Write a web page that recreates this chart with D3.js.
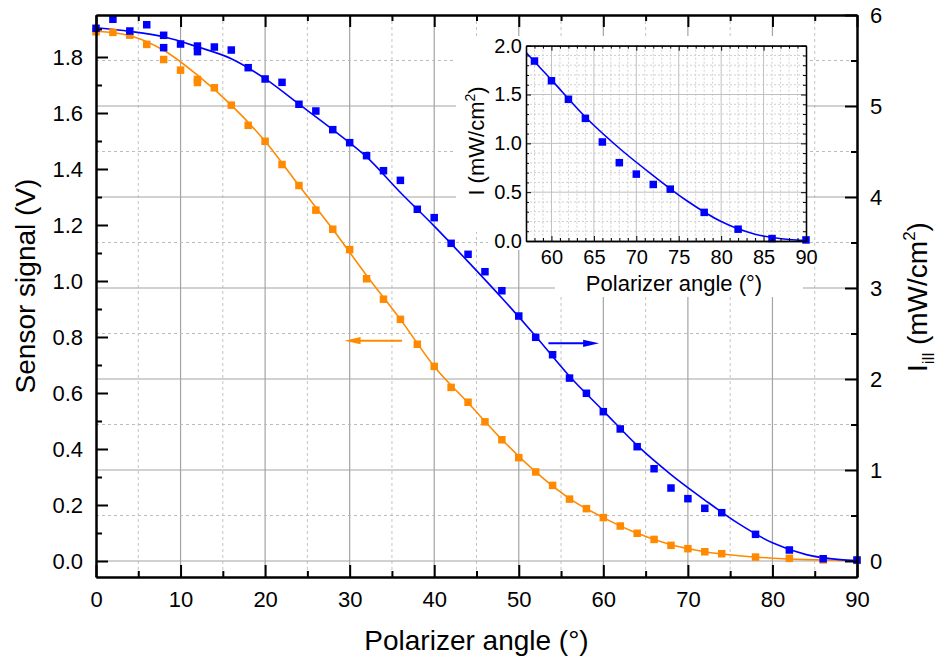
<!DOCTYPE html>
<html>
<head>
<meta charset="utf-8">
<script src="https://cdn.jsdelivr.net/npm/d3@7"></script>
<style>
  body { margin: 0; background: #fff; }
  svg { font-family: "Liberation Sans", Arial, sans-serif; }
</style>
</head>
<body>
<script>
// Measured points: polarizer angle (deg), sensor signal (V, left axis)
const orangeAngle = [0, 2, 4, 6, 8, 10, 12, 12, 14, 16, 18, 20, 22, 24, 26, 28, 30, 32, 34, 36, 38, 40, 42, 44, 46, 48, 50, 52, 54, 56, 58, 60, 62, 64, 66, 68, 70, 72, 74, 78, 82, 86, 90];
const orangeV = [1.890, 1.888, 1.878, 1.845, 1.791, 1.753, 1.720, 1.709, 1.690, 1.628, 1.556, 1.499, 1.416, 1.341, 1.253, 1.185, 1.112, 1.008, 0.935, 0.863, 0.774, 0.695, 0.620, 0.567, 0.497, 0.433, 0.369, 0.318, 0.270, 0.221, 0.187, 0.155, 0.125, 0.099, 0.077, 0.056, 0.044, 0.033, 0.026, 0.014, 0.0096, 0.004, 0.002];

// Measured points: illumination intensity (mW/cm2, right axis)
const blueAngle = [0, 2, 4, 6, 8, 8, 10, 12, 12, 14, 16, 18, 20, 22, 24, 26, 28, 30, 32, 34, 36, 38, 40, 42, 44, 46, 48, 50, 52, 54, 56, 58, 60, 62, 64, 66, 68, 70, 72, 74, 78, 82, 86, 90];
const blueI = [5.854, 5.953, 5.824, 5.893, 5.777, 5.641, 5.681, 5.659, 5.597, 5.648, 5.615, 5.421, 5.297, 5.260, 5.019, 4.945, 4.740, 4.597, 4.454, 4.289, 4.183, 3.865, 3.773, 3.491, 3.370, 3.179, 2.970, 2.692, 2.458, 2.267, 2.010, 1.843, 1.641, 1.451, 1.256, 1.014, 0.802, 0.685, 0.579, 0.531, 0.293, 0.121, 0.025, 0.011];

// Fit curves
const fitAngle = [0, 4, 8, 12, 16, 20, 24, 28, 32, 36, 40, 44, 48, 52, 56, 60, 64, 68, 72, 76, 80, 84, 88, 90];
const orangeFit = [1.892, 1.876, 1.824, 1.735, 1.628, 1.499, 1.341, 1.185, 1.020, 0.863, 0.695, 0.565, 0.434, 0.318, 0.223, 0.155, 0.099, 0.058, 0.033, 0.019, 0.010, 0.005, 0.002, 0.000];
const blueFit = [5.86, 5.82, 5.76, 5.65, 5.52, 5.30, 5.02, 4.74, 4.44, 4.05, 3.68, 3.29, 2.89, 2.47, 2.03, 1.65, 1.27, 0.95, 0.67, 0.41, 0.20, 0.07, 0.015, 0.005];

// Tick values
const xMajor = d3.range(0, 91, 10);
const xMinor = d3.range(5, 90, 10);
const leftMajor = d3.range(0, 1.81, 0.2);
const leftMinor = d3.range(0.1, 1.91, 0.2);
const rightMajor = d3.range(0, 7, 1);
const rightMinor = d3.range(0.5, 6, 1);
const insetXMajor = d3.range(60, 91, 5);
const insetXMinor = d3.range(58, 90, 1).filter(d => d % 5 !== 0);
const insetYMajor = [0, 0.5, 1.0, 1.5, 2.0];
const insetYMinor = d3.range(1, 20).filter(d => d % 5 !== 0).map(d => d / 10);

const orange = "#ff8a00";
const blue = "#0000ff";

const svg = d3.select("body").append("svg")
  .attr("width", 939)
  .attr("height", 659);

// Main plot scales
const x = d3.scaleLinear().domain([0, 90]).range([96, 857]);
const yL = d3.scaleLinear().domain([0, 1.8]).range([561, 57]);
const yR = d3.scaleLinear().domain([0, 6]).range([561, 15]);
const plotTop = 15, plotBottom = 577;

// Grid
const grid = svg.append("g");
grid.selectAll(".vmaj").data(xMajor.filter(d => d > 0 && d < 90)).enter().append("line")
  .attr("x1", d => x(d)).attr("x2", d => x(d)).attr("y1", plotTop).attr("y2", plotBottom)
  .attr("stroke", "#a4a4a4").attr("stroke-width", 1.2);
grid.selectAll(".vmin").data(xMinor).enter().append("line")
  .attr("x1", d => x(d)).attr("x2", d => x(d)).attr("y1", plotTop).attr("y2", plotBottom)
  .attr("stroke", "#c4c4c4").attr("stroke-dasharray", "3,3");
grid.selectAll(".hmaj").data(rightMajor.filter(d => d < 6)).enter().append("line")
  .attr("x1", x(0)).attr("x2", x(90)).attr("y1", d => yR(d)).attr("y2", d => yR(d))
  .attr("stroke", "#a4a4a4").attr("stroke-width", 1.2);
grid.selectAll(".hmin").data(rightMinor).enter().append("line")
  .attr("x1", x(0)).attr("x2", x(90)).attr("y1", d => yR(d)).attr("y2", d => yR(d))
  .attr("stroke", "#bcbcbc").attr("stroke-dasharray", "3,3");

// Fit lines
const orangeLine = d3.line().curve(d3.curveMonotoneX)
  .x((d, i) => x(fitAngle[i])).y(d => yL(d));
const blueLine = d3.line().curve(d3.curveMonotoneX)
  .x((d, i) => x(fitAngle[i])).y(d => yR(d));

svg.append("path").datum(orangeFit).attr("d", orangeLine)
  .attr("fill", "none").attr("stroke", orange).attr("stroke-width", 1.6);
svg.append("path").datum(blueFit).attr("d", blueLine)
  .attr("fill", "none").attr("stroke", blue).attr("stroke-width", 1.6);

// Points
const sq = 7.5;
svg.selectAll(".op").data(orangeV).enter().append("rect")
  .attr("x", (d, i) => x(orangeAngle[i]) - sq / 2)
  .attr("y", d => yL(d) - sq / 2)
  .attr("width", sq).attr("height", sq).attr("fill", orange);
svg.selectAll(".bp").data(blueI).enter().append("rect")
  .attr("x", (d, i) => x(blueAngle[i]) - sq / 2)
  .attr("y", d => yR(d) - sq / 2)
  .attr("width", sq).attr("height", sq).attr("fill", blue);

// Arrows pointing to each series' axis
function arrow(x1, x2, y, color) {
  const dir = Math.sign(x2 - x1);
  svg.append("line").attr("x1", x1).attr("x2", x2 - dir * 12).attr("y1", y).attr("y2", y)
    .attr("stroke", color).attr("stroke-width", 2);
  svg.append("path")
    .attr("d", `M${x2},${y} L${x2 - dir * 16},${y - 3.6} L${x2 - dir * 16},${y + 3.6} Z`)
    .attr("fill", color);
}
arrow(x(36.2), x(29.4), yL(0.787), orange);
arrow(x(53.5), x(59.5), yR(2.392), blue);

// Main axes
const fs = "22px";
function styleAxis(g) {
  g.select(".domain").attr("stroke", "#000").attr("stroke-width", 2);
  g.selectAll(".tick line").attr("stroke", "#000").attr("stroke-width", 2);
  g.selectAll(".tick text").attr("font-size", fs).attr("fill", "#000")
    .attr("font-family", "Liberation Sans, Arial, sans-serif");
}

svg.append("g").attr("transform", `translate(0,${plotBottom})`)
  .call(d3.axisBottom(x).tickValues(xMinor).tickSize(-6).tickFormat("").tickSizeOuter(0)).call(styleAxis);
svg.append("g").attr("transform", `translate(0,${plotBottom})`)
  .call(d3.axisBottom(x).tickValues(xMajor).tickSize(-12).tickPadding(14).tickFormat(d3.format("d")).tickSizeOuter(0))
  .call(styleAxis);
svg.append("g").attr("transform", `translate(0,${plotTop})`)
  .call(d3.axisTop(x).tickValues(xMinor).tickSize(-6).tickFormat("").tickSizeOuter(0)).call(styleAxis);
svg.append("g").attr("transform", `translate(0,${plotTop})`)
  .call(d3.axisTop(x).tickValues(xMajor).tickSize(-12).tickFormat("").tickSizeOuter(0)).call(styleAxis);

// left axis spans full plot height
const yLfull = yL.copy().domain([yL.invert(plotBottom), yL.invert(plotTop)]).range([plotBottom, plotTop]);
svg.append("g").attr("transform", `translate(${x(0)},0)`)
  .call(d3.axisLeft(yLfull).tickValues(leftMinor).tickSize(-6).tickFormat("").tickSizeOuter(0)).call(styleAxis);
svg.append("g").attr("transform", `translate(${x(0)},0)`)
  .call(d3.axisLeft(yLfull).tickValues(leftMajor).tickSize(-12).tickPadding(13).tickFormat(d3.format(".1f")).tickSizeOuter(0))
  .call(styleAxis);

const yRfull = yR.copy().domain([yR.invert(plotBottom), yR.invert(plotTop)]).range([plotBottom, plotTop]);
svg.append("g").attr("transform", `translate(${x(90)},0)`)
  .call(d3.axisRight(yRfull).tickValues(rightMinor).tickSize(-6).tickFormat("").tickSizeOuter(0)).call(styleAxis);
svg.append("g").attr("transform", `translate(${x(90)},0)`)
  .call(d3.axisRight(yRfull).tickValues(rightMajor).tickSize(-12).tickPadding(13).tickFormat(d3.format("d")).tickSizeOuter(0))
  .call(styleAxis);

// Axis titles
svg.append("text").attr("x", (x(0) + x(90)) / 2).attr("y", 650)
  .attr("text-anchor", "middle").attr("font-size", "28px").text("Polarizer angle (°)");
svg.append("text").attr("transform", "translate(35,286) rotate(-90)")
  .attr("text-anchor", "middle").attr("font-size", "28px").text("Sensor signal (V)");
const rt = svg.append("text").attr("transform", "translate(927,297) rotate(-90)")
  .attr("text-anchor", "middle").attr("font-size", "28px");
rt.append("tspan").text("I");
rt.append("tspan").attr("font-size", "17px").attr("dy", 7).text("ill");
rt.append("tspan").attr("dy", -7).text(" (mW/cm");
rt.append("tspan").attr("font-size", "17px").attr("dy", -12).text("2");
rt.append("tspan").attr("dy", 12).text(")");

// ---------- Inset ----------
const ix = d3.scaleLinear().domain([57, 90]).range([526, 806]);
const iy = d3.scaleLinear().domain([0, 2]).range([241, 45.7]);

// white background behind inset and its labels
svg.append("rect").attr("x", 456).attr("y", 36).attr("width", 350).attr("height", 196).attr("fill", "#fff");
svg.append("rect").attr("x", 488).attr("y", 232).attr("width", 318).attr("height", 18).attr("fill", "#fff");
svg.append("rect").attr("x", 555).attr("y", 250).attr("width", 248).attr("height", 47).attr("fill", "#fff");

const inset = svg.append("g");
inset.append("clipPath").attr("id", "iclip").append("rect")
  .attr("x", ix(57)).attr("y", iy(2)).attr("width", ix(90) - ix(57)).attr("height", iy(0) - iy(2));

inset.selectAll(".ivmin").data(insetXMinor).enter().append("line")
  .attr("x1", d => ix(d)).attr("x2", d => ix(d)).attr("y1", iy(2)).attr("y2", iy(0))
  .attr("stroke", "#d0d0d0").attr("stroke-dasharray", "2,2");
inset.selectAll(".ihmin").data(insetYMinor).enter().append("line")
  .attr("x1", ix(57)).attr("x2", ix(90)).attr("y1", d => iy(d)).attr("y2", d => iy(d))
  .attr("stroke", "#d0d0d0").attr("stroke-dasharray", "2,2");
inset.selectAll(".ivmaj").data(insetXMajor.filter(d => d < 90)).enter().append("line")
  .attr("x1", d => ix(d)).attr("x2", d => ix(d)).attr("y1", iy(2)).attr("y2", iy(0))
  .attr("stroke", "#c0c0c0");
inset.selectAll(".ihmaj").data(insetYMajor.filter(d => d > 0 && d < 2)).enter().append("line")
  .attr("x1", ix(57)).attr("x2", ix(90)).attr("y1", d => iy(d)).attr("y2", d => iy(d))
  .attr("stroke", "#c0c0c0");

const insetLine = d3.line().curve(d3.curveMonotoneX)
  .x((d, i) => ix(fitAngle[i])).y(d => iy(d));
inset.append("path").datum(blueFit).attr("d", insetLine).attr("clip-path", "url(#iclip)")
  .attr("fill", "none").attr("stroke", blue).attr("stroke-width", 1.6);

const isq = 7.5;
inset.selectAll(".ip").data(blueI.map((d, i) => [blueAngle[i], d]).filter(d => d[0] >= 57))
  .enter().append("rect")
  .attr("x", d => ix(d[0]) - isq / 2).attr("y", d => iy(d[1]) - isq / 2)
  .attr("width", isq).attr("height", isq).attr("fill", blue);

function styleInset(g) {
  g.select(".domain").attr("stroke", "#000").attr("stroke-width", 1.3);
  g.selectAll(".tick line").attr("stroke", "#000").attr("stroke-width", 1);
  g.selectAll(".tick text").attr("font-size", "20px").attr("fill", "#000")
    .attr("font-family", "Liberation Sans, Arial, sans-serif");
}
inset.append("g").attr("transform", `translate(0,${iy(0)})`)
  .call(d3.axisBottom(ix).tickValues(insetXMinor).tickSize(-3).tickFormat("").tickSizeOuter(0)).call(styleInset);
inset.append("g").attr("transform", `translate(0,${iy(0)})`)
  .call(d3.axisBottom(ix).tickValues(insetXMajor).tickSize(-5).tickPadding(9).tickFormat(d3.format("d")).tickSizeOuter(0))
  .call(styleInset);
inset.append("g").attr("transform", `translate(0,${iy(2)})`)
  .call(d3.axisTop(ix).tickValues(insetXMinor).tickSize(-3).tickFormat("").tickSizeOuter(0)).call(styleInset);
inset.append("g").attr("transform", `translate(0,${iy(2)})`)
  .call(d3.axisTop(ix).tickValues(insetXMajor).tickSize(-5).tickFormat("").tickSizeOuter(0)).call(styleInset);
inset.append("g").attr("transform", `translate(${ix(57)},0)`)
  .call(d3.axisLeft(iy).tickValues(insetYMinor).tickSize(-3).tickFormat("").tickSizeOuter(0)).call(styleInset);
inset.append("g").attr("transform", `translate(${ix(57)},0)`)
  .call(d3.axisLeft(iy).tickValues(insetYMajor).tickSize(-5).tickPadding(4).tickFormat(d3.format(".1f")).tickSizeOuter(0))
  .call(styleInset);
inset.append("g").attr("transform", `translate(${ix(90)},0)`)
  .call(d3.axisRight(iy).tickValues(insetYMinor).tickSize(-3).tickFormat("").tickSizeOuter(0)).call(styleInset);
inset.append("g").attr("transform", `translate(${ix(90)},0)`)
  .call(d3.axisRight(iy).tickValues(insetYMajor).tickSize(-5).tickFormat("").tickSizeOuter(0)).call(styleInset);

inset.append("text").attr("x", 674).attr("y", 291)
  .attr("text-anchor", "middle").attr("font-size", "22px").text("Polarizer angle (°)");
const it = inset.append("text").attr("transform", "translate(484,141) rotate(-90)")
  .attr("text-anchor", "middle").attr("font-size", "22px");
it.append("tspan").text("I (mW/cm");
it.append("tspan").attr("font-size", "14px").attr("dy", -9).text("2");
it.append("tspan").attr("dy", 9).text(")");
</script>
</body>
</html>
